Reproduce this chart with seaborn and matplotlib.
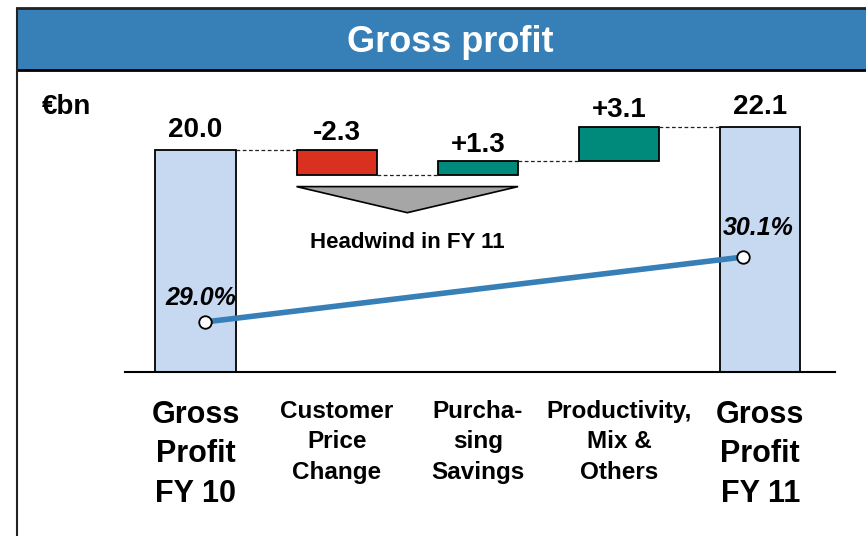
import numpy as np
import pandas as pd
import seaborn as sns
import matplotlib.pyplot as plt
from matplotlib.patches import Rectangle, Polygon
from matplotlib.lines import Line2D

# dados do grafico
categorias = ["Gross\nProfit\nFY 10", "Customer\nPrice\nChange", "Purcha-\nsing\nSavings",
              "Productivity,\nMix &\nOthers", "Gross\nProfit\nFY 11"]
valores = [20.0, -2.3, 1.3, 3.1, 22.1]
rotulos = ["20.0", "-2.3", "+1.3", "+3.1", "22.1"]
margem = [29.0, 30.1]
margem_rotulos = ["29.0%", "30.1%"]
cores = ["#C6D9F1", "#D9301F", "#008A7C", "#008A7C", "#C6D9F1"]

# base e topo de cada barra (cascata)
bases, alturas = [], []
nivel = 0.0
for i, v in enumerate(valores):
    if i == 0 or i == len(valores) - 1:
        bases.append(0.0)
        alturas.append(v)
        nivel = v
    else:
        novo = nivel + v
        bases.append(min(nivel, novo))
        alturas.append(abs(v))
        nivel = novo

df = pd.DataFrame({"cat": categorias, "altura": alturas, "base": bases})

sns.set_style("white")
plt.rcParams["font.family"] = ["Liberation Sans", "DejaVu Sans"]
plt.rcParams["text.color"] = "black"
plt.rcParams["xtick.color"] = "black"

fig = plt.figure(figsize=(8.66, 5.36), dpi=100)
W, H = 866, 536

# moldura e cabecalho
fig.patches.append(Rectangle((17 / W, 1 - 70 / H), 1, 62 / H, transform=fig.transFigure,
                             facecolor="#367FB7", edgecolor="none", zorder=0))
fig.lines.append(Line2D([17 / W, 1], [1 - 8 / H] * 2, transform=fig.transFigure, color="#222222", lw=2))
fig.lines.append(Line2D([17 / W, 1], [1 - 70 / H] * 2, transform=fig.transFigure, color="black", lw=2))
fig.lines.append(Line2D([17 / W] * 2, [0, 1 - 8 / H], transform=fig.transFigure, color="#222222", lw=1.5))
fig.text(450 / W, 1 - 42 / H, "Gross profit", color="white", fontsize=26, fontweight="bold",
         ha="center", va="center")
fig.text(67 / W, 1 - 107 / H, "€bn", fontsize=20, fontweight="bold", ha="center", va="center")

ax = fig.add_axes([125 / W, (H - 372) / H, 710 / W, (372 - 100) / H])
largura = 0.57
sns.barplot(data=df, x="cat", y="altura", hue="cat", palette=cores, legend=False, saturation=1,
            width=largura, edgecolor="black", linewidth=1.3, ax=ax)
for p, b in zip(ax.patches, bases):
    p.set_y(b)

ax.set_xlim(-0.5, 4.53)
ax.set_ylim(0, 24.5)
ax.set_xlabel("")
ax.set_ylabel("")
ax.set_yticks([])
for s in ["top", "right", "left"]:
    ax.spines[s].set_visible(False)
ax.spines["bottom"].set_color("black")
ax.spines["bottom"].set_linewidth(1.5)

ax.set_xticks(range(len(categorias)))
ax.set_xticklabels(categorias)
ax.tick_params(axis="x", length=0, pad=20)
for i, t in enumerate(ax.get_xticklabels()):
    t.set_fontweight("bold")
    if i in (0, len(categorias) - 1):
        t.set_fontsize(22)
        t.set_linespacing(1.42)
    else:
        t.set_fontsize(17.5)
        t.set_linespacing(1.42)

# rotulos de valor
for i, (b, h, r) in enumerate(zip(bases, alturas, rotulos)):
    off = 5 if i in (0, len(valores) - 1) else 2.5
    ax.annotate(r, (i, b + h), xytext=(0, off), textcoords="offset points",
                ha="center", va="bottom", fontsize=20, fontweight="bold")

# linhas tracejadas de ligacao
nivel = valores[0]
for i in range(len(valores) - 1):
    if i == 0:
        y = valores[0]
    else:
        nivel = nivel + valores[i]
        y = nivel
    ax.plot([i + largura / 2, i + 1 - largura / 2], [y, y], ls="--", color="#222222", lw=0.9, dashes=(3, 2))

# triangulo "headwind"
topo_tri = bases[1] - 1.0
ax.add_patch(Polygon([[1 - largura / 2, topo_tri], [2 + largura / 2, topo_tri], [1.5, topo_tri - 2.35]],
                     closed=True, facecolor="#A6A6A6", edgecolor="black", lw=1.2))
ax.text(1.5, topo_tri - 5.0, "Headwind in FY 11", ha="center", va="center", fontsize=16, fontweight="bold")

# margem bruta (eixo secundario)
ax2 = ax.twinx()
ax2.set_ylim(28.154, 32.757)
ax2.axis("off")
xs_margem = [0.065, 3.88]
sns.lineplot(x=xs_margem, y=margem, color="#367FB7", lw=4, ax=ax2, zorder=5)
ax2.plot(xs_margem, margem, ls="none", marker="o", ms=9, mfc="white", mec="black", mew=1.3, zorder=6)
ax2.annotate(margem_rotulos[0], (xs_margem[0], margem[0]), xytext=(-3, 9), textcoords="offset points",
             ha="center", va="bottom", fontsize=18, fontweight="bold", style="italic")
ax2.annotate(margem_rotulos[1], (xs_margem[1], margem[1]), xytext=(11, 12), textcoords="offset points",
             ha="center", va="bottom", fontsize=18, fontweight="bold", style="italic")

fig.savefig("out.png", dpi=100)
